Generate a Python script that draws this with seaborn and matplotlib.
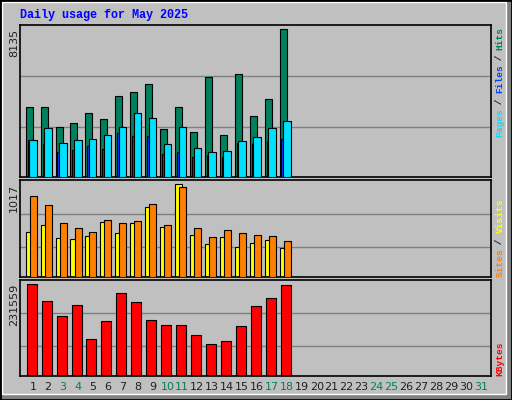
import numpy as np
import matplotlib
matplotlib.use("Agg")
import matplotlib.pyplot as plt
import seaborn as sns
from matplotlib.patches import Rectangle

sns.set_style("white")
plt.rcParams['font.family'] = ['DejaVu Sans']

days = list(range(1, 32))
hits = [3865, 3865, 2779, 3000, 3552, 3221, 4436, 4657, 5098, 2669, 3865, 2503, 5485, 2337, 5650, 3387, 4270, 8135, 0]
files = [2061, 2724, 1896, 2061, 2117, 2337, 2779, 3552, 3276, 1840, 2779, 1620, 1399, 1454, 2006, 2227, 2724, 3110, 0]
pages = [2061, 1840, 1399, 1509, 1730, 1564, 2448, 2282, 2282, 1288, 1399, 1123, 1233, 1123, 1896, 1840, 2006, 2117, 0]
visits = [496, 573, 429, 418, 451, 607, 484, 595, 773, 551, 1017, 462, 362, 440, 329, 373, 407, 318, 0]
sites = [884, 795, 595, 540, 496, 629, 595, 618, 806, 573, 984, 540, 440, 518, 484, 462, 451, 396, 0]
kbytes = [231559, 188622, 150730, 178518, 92626, 138097, 208831, 186096, 140623, 127993, 127993, 102731,
          79995, 87574, 125467, 175992, 196201, 229033, 0]
weekend = [3, 4, 10, 11, 17, 18, 24, 25, 31]

W, H = 512, 400
BG = "#C0C0C0"
fig = plt.figure(figsize=(W / 100, H / 100), dpi=100, facecolor=BG)

def ax_px(x0, y0, x1, y1):
    return fig.add_axes([x0 / W, 1 - y1 / H, (x1 - x0) / W, (y1 - y0) / H])

# frame
fig.patches.append(Rectangle((1 - 5 / W, 0), 5 / W, 1, transform=fig.transFigure, color="#808080", lw=0))
fig.patches.append(Rectangle((0, 0), 1, 5 / H, transform=fig.transFigure, color="#808080", lw=0))
fig.patches.append(Rectangle((2 / W, 6 / H), 1 - 8 / W, 1 - 8 / H, transform=fig.transFigure, fill=False, ec="white", lw=1))
fig.patches.append(Rectangle((0, 0), 1, 1, transform=fig.transFigure, fill=False, ec="black", lw=2))

XL = (0.13, 31.67)
panels = [(25, 177), (180, 277), (280, 376)]
axes = [ax_px(20, a, 491, b) for a, b in panels]
n = len(hits)
d = np.arange(1, n + 1)

def style(ax, ymax, grids):
    ax.set_facecolor(BG)
    ax.set_xlim(*XL)
    ax.set_ylim(0, ymax)
    for g in grids:
        ax.axhline(g, color="#808080", lw=1, zorder=0)
    ax.set_yticks([])
    ax.set_xticks([])
    for s in ax.spines.values():
        s.set_color("black")
        s.set_linewidth(1.2)

kw = dict(align="edge", edgecolor="black", linewidth=0.8)
a = axes[0]
a.bar(d - 0.49, hits, width=0.47, color="#00805C", zorder=2, **kw)
a.bar(d - 0.36, pages, width=0.3, color="#0040FF", zorder=3, **kw)
a.bar(d - 0.25, files, width=0.5, color="#00E0FF", zorder=4, **kw)
style(a, 8372, [2737, 5546])

a = axes[1]
a.bar(d - 0.49, visits, width=0.47, color="#FFFF00", zorder=2, **kw)
a.bar(d - 0.22, sites, width=0.47, color="#FF8000", zorder=3, **kw)
style(a, 1065, [329, 695])

a = axes[2]
a.bar(d - 0.42, kbytes, width=0.67, color="#FF0000", zorder=2, **kw)
style(a, 242418, [75000, 158300])
a.set_xticks(days)
a.set_xticklabels([str(x) for x in days], fontsize=8)
a.tick_params(axis="x", length=0, pad=4)
for t, x in zip(a.get_xticklabels(), days):
    t.set_color("#00805C" if x in weekend else "#202020")

mono = dict(family="Liberation Mono", fontweight="bold")
fig.text(20 / W, 1 - 15 / H, "Daily usage for May 2025", color="#0000FF", fontsize=8.5, va="center", **mono)

for (top, lab) in [(29, str(max(hits))), (184, str(max(visits))), (284, str(max(kbytes)))]:
    fig.text(14 / W, 1 - top / H, lab, rotation=90, fontsize=8, va="top", ha="center", color="#202020")

def vlabel(bottom, parts):
    y = bottom
    for txt, col in parts:
        fig.text(500 / W, 1 - y / H, txt, rotation=90, color=col, fontsize=6.8,
                 va="bottom", ha="center", family="Liberation Mono", fontweight="bold")
        y -= len(txt) * 5.45

vlabel(137, [("Pages", "#00E0FF"), (" / ", "#202020"), ("Files", "#0040FF"), (" / ", "#202020"), ("Hits", "#00805C")])
vlabel(277, [("Sites", "#FF8000"), (" / ", "#202020"), ("Visits", "#FFFF00")])
vlabel(376, [("KBytes", "#FF0000")])

fig.savefig("out.png", dpi=100, facecolor=BG)
